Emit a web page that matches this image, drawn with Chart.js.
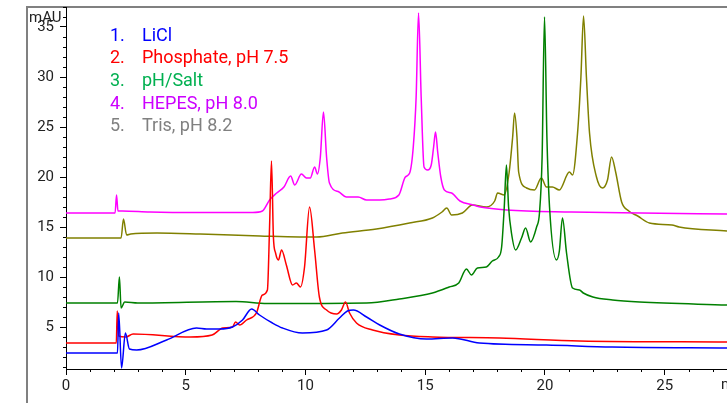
<!DOCTYPE html>
<html>
<head>
<meta charset="utf-8">
<script src="https://cdn.jsdelivr.net/npm/chart.js@4"></script>
<style>
  html, body { margin: 0; padding: 0; background: #fff; }
  #chart { display: block; }
</style>
</head>
<body>
<canvas id="chart" width="727" height="403"></canvas>
<script>
// retention time (min) and absorbance (mAU)
const liclTime = [0, 2.15, 2.2, 2.32, 2.48, 2.65, 2.95, 4.2, 5.45, 5.87, 6.4, 6.95, 7.37, 7.75, 8.08, 8.62, 9.04, 9.87, 10.88, 11.42, 11.75, 12.0, 12.55, 13.1, 13.92, 15.05, 16.14, 17.26, 20.06, 22.8, 27.6]
const liclMau = [2.4, 2.4, 6.4, 0.9, 4.4, 2.8, 2.7, 3.7, 4.9, 4.8, 4.8, 5.0, 5.7, 6.8, 6.2, 5.4, 4.9, 4.4, 4.7, 5.9, 6.6, 6.7, 6.0, 5.2, 4.3, 3.8, 3.9, 3.4, 3.2, 3.0, 2.9]

const phosTime = [0, 2.1, 2.14, 2.2, 2.5, 2.8, 5.2, 6.1, 6.55, 6.95, 7.08, 7.25, 7.54, 7.95, 8.2, 8.41, 8.5, 8.58, 8.66, 8.75, 8.87, 9.0, 9.2, 9.46, 9.62, 9.79, 9.96, 10.17, 10.38, 10.58, 10.88, 11.3, 11.5, 11.67, 11.84, 12.13, 12.8, 13.92, 15.3, 18.1, 21.44, 27.6]
const phosMau = [3.4, 3.4, 6.6, 4.1, 4.0, 4.3, 4.0, 4.2, 4.9, 5.0, 5.5, 5.2, 5.7, 6.4, 8.2, 8.7, 15.0, 21.6, 14.0, 12.4, 11.7, 12.7, 11.2, 9.2, 9.4, 9.0, 11.0, 17.0, 12.7, 8.0, 6.7, 6.3, 6.7, 7.5, 6.4, 5.4, 4.7, 4.2, 4.0, 3.9, 3.6, 3.5]

const saltTime = [0, 2.15, 2.23, 2.3, 2.45, 3, 7.1, 8.4, 12.55, 13.92, 15.3, 16.0, 16.4, 16.72, 16.93, 17.18, 17.55, 17.8, 18.06, 18.19, 18.3, 18.39, 18.48, 18.6, 18.77, 19.02, 19.19, 19.4, 19.65, 19.77, 19.88, 19.98, 20.08, 20.19, 20.48, 20.6, 20.73, 20.9, 21.15, 21.44, 21.6, 22.0, 22.82, 23.95, 27.6]
const saltMau = [7.4, 7.4, 10.0, 6.9, 7.5, 7.4, 7.55, 7.35, 7.4, 7.8, 8.4, 9.0, 9.4, 10.8, 10.2, 10.9, 11.0, 11.6, 12.0, 13.0, 17.0, 21.2, 17.0, 14.4, 12.7, 13.9, 14.9, 13.5, 15.0, 16.4, 22.0, 36.0, 24.0, 17.0, 11.7, 12.6, 15.9, 12.4, 8.9, 8.7, 8.4, 8.0, 7.7, 7.5, 7.2]

const hepesTime = [0, 2.05, 2.11, 2.17, 2.35, 3.5, 5.5, 7.8, 8.2, 8.5, 8.8, 9.1, 9.38, 9.55, 9.83, 10.04, 10.2, 10.38, 10.5, 10.62, 10.75, 10.88, 11.0, 11.4, 11.7, 12.2, 12.55, 13.1, 13.5, 13.9, 14.17, 14.35, 14.5, 14.62, 14.72, 14.83, 14.95, 15.1, 15.25, 15.35, 15.43, 15.52, 15.65, 15.8, 16.1, 16.45, 17.0, 17.3, 18.4, 21.1, 24.0, 27.6]
const hepesMau = [16.4, 16.4, 18.2, 16.6, 16.6, 16.5, 16.45, 16.45, 16.6, 17.7, 18.4, 19.0, 20.1, 19.2, 20.3, 19.9, 19.9, 21.0, 20.3, 22.0, 26.5, 22.0, 19.4, 18.5, 18.0, 18.0, 17.7, 17.7, 17.8, 18.2, 20.0, 20.4, 23.0, 28.0, 36.4, 28.0, 21.0, 20.7, 21.2, 23.0, 24.5, 22.5, 20.0, 18.7, 18.4, 17.6, 17.2, 17.0, 16.7, 16.5, 16.4, 16.3]

const trisTime = [0, 2.3, 2.4, 2.53, 2.7, 3.8, 5.6, 8.1, 9.75, 10.46, 11.54, 12.96, 14.34, 15.3, 15.7, 15.9, 16.1, 16.55, 16.97, 17.55, 17.9, 18.02, 18.3, 18.5, 18.65, 18.73, 18.83, 18.9, 19.23, 19.56, 19.85, 20.06, 20.31, 20.6, 21.02, 21.15, 21.36, 21.5, 21.61, 21.73, 21.86, 22.15, 22.4, 22.61, 22.78, 22.95, 23.2, 23.5, 23.87, 24.36, 25.3, 25.6, 27.6]
const trisMau = [13.9, 13.9, 15.8, 14.2, 14.3, 14.4, 14.3, 14.1, 14.0, 14.0, 14.4, 14.8, 15.4, 15.9, 16.5, 16.9, 16.2, 16.4, 17.2, 17.0, 17.6, 18.4, 18.2, 20.4, 24.0, 26.4, 24.0, 20.5, 18.9, 18.7, 19.9, 19.0, 19.0, 18.7, 20.5, 20.2, 24.4, 30.0, 36.1, 30.0, 24.4, 20.0, 18.9, 19.7, 22.0, 20.5, 17.5, 16.6, 16.1, 15.4, 15.2, 15.0, 14.6]

const seriesNames = ['LiCl', 'Phosphate, pH 7.5', 'pH/Salt', 'HEPES, pH 8.0', 'Tris, pH 8.2']
const lineColors = ['#0000ff', '#ff0000', '#008000', '#ff00ff', '#808000']
const legendColors = ['#0000ff', '#ff0000', '#00b050', '#cc00ff', '#808080']

const xTickLabels = [0, 5, 10, 15, 20, 25]
const yTickLabels = [5, 10, 15, 20, 25, 30, 35]

const FONT = 'Roboto, "Noto Sans", sans-serif'

const toPoints = (xs, ys) => xs.map((x, i) => ({x: x, y: ys[i]}))
const traces = [
    toPoints(liclTime, liclMau),
    toPoints(phosTime, phosMau),
    toPoints(saltTime, saltMau),
    toPoints(hepesTime, hepesMau),
    toPoints(trisTime, trisMau)
]

// frame, minor ticks, unit labels and the numbered legend
const decorations = {
    id: 'decorations',
    beforeDraw(chart) {
        const ctx = chart.ctx
        const area = chart.chartArea
        ctx.save()
        ctx.strokeStyle = '#808080'
        ctx.lineWidth = 2
        ctx.beginPath()
        ctx.moveTo(27, chart.height)
        ctx.lineTo(27, area.top)
        ctx.lineTo(chart.width, area.top)
        ctx.stroke()
        ctx.restore()
    },
    afterDraw(chart) {
        const ctx = chart.ctx
        const area = chart.chartArea
        const xs = chart.scales.x
        const ys = chart.scales.y
        ctx.save()
        ctx.strokeStyle = '#000'
        ctx.lineWidth = 1
        ctx.beginPath()
        for (let v = 1; v <= xs.max; v++) {
            if (v % 5 === 0) continue
            const px = Math.round(xs.getPixelForValue(v)) + 0.5
            ctx.moveTo(px, area.bottom)
            ctx.lineTo(px, area.bottom + 3)
        }
        for (let v = 1; v <= ys.max; v++) {
            if (v % 5 === 0) continue
            const py = Math.round(ys.getPixelForValue(v)) + 0.5
            ctx.moveTo(area.left, py)
            ctx.lineTo(area.left - 3, py)
        }
        ctx.stroke()

        ctx.fillStyle = '#222'
        ctx.font = '15px ' + FONT
        ctx.textBaseline = 'middle'
        ctx.textAlign = 'left'
        ctx.fillText('mAU', 29, 18)
        ctx.fillText('min', 721, 385)

        ctx.font = '18px ' + FONT
        seriesNames.forEach((name, i) => {
            const y = 36 + i * 22.7
            ctx.fillStyle = legendColors[i]
            ctx.fillText((i + 1) + '.', 110, y)
            ctx.fillText(name, 142, y)
        })
        ctx.restore()
    }
}

new Chart(document.getElementById('chart'), {
    type: 'line',
    data: {
        datasets: traces.map((pts, i) => ({
            label: seriesNames[i],
            data: pts,
            borderColor: lineColors[i],
            borderWidth: 1.5,
            pointRadius: 0,
            cubicInterpolationMode: 'monotone',
            fill: false
        }))
    },
    options: {
        responsive: false,
        animation: false,
        devicePixelRatio: 1,
        layout: {padding: {left: 0, top: 7, right: 0, bottom: 0}},
        plugins: {legend: {display: false}, tooltip: {enabled: false}},
        scales: {
            x: {
                type: 'linear',
                min: 0,
                max: 27.6,
                border: {color: '#000', width: 1},
                grid: {drawOnChartArea: false, tickLength: 6, tickColor: '#000'},
                ticks: {
                    stepSize: 5,
                    includeBounds: false,
                    autoSkip: false,
                    maxRotation: 0,
                    padding: 2,
                    color: '#222',
                    font: {family: FONT, size: 15},
                    callback: v => xTickLabels.includes(v) ? String(v) : ''
                },
                afterFit: s => { s.height = 34; s.paddingLeft = 0; s.paddingRight = 0 }
            },
            y: {
                type: 'linear',
                min: 0.8,
                max: 37,
                border: {color: '#000', width: 1},
                grid: {drawOnChartArea: false, tickLength: 6, tickColor: '#000'},
                ticks: {
                    stepSize: 5,
                    includeBounds: false,
                    autoSkip: false,
                    padding: 6,
                    color: '#222',
                    font: {family: FONT, size: 15},
                    callback: v => yTickLabels.includes(v) ? String(v) : ''
                },
                afterFit: s => { s.width = 66; s.paddingTop = 0; s.paddingBottom = 0 }
            }
        }
    },
    plugins: [decorations]
})
</script>
</body>
</html>
